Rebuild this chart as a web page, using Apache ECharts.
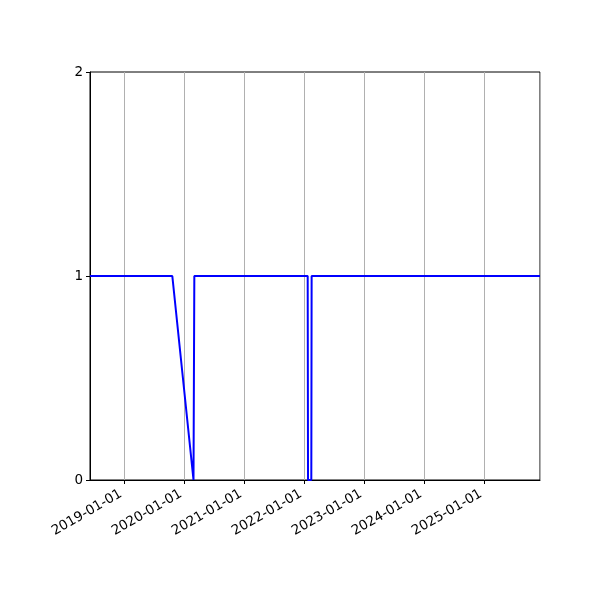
<!DOCTYPE html>
<html>
<head>
<meta charset="utf-8">
<script src="https://cdn.jsdelivr.net/npm/echarts@6/dist/echarts.min.js"></script>
<style>
  html, body { margin: 0; padding: 0; background: #fff; }
  #chart { width: 600px; height: 600px; }
</style>
</head>
<body>
<div id="chart"></div>
<script>
// status per date (1 = on, 0 = off)
var dates  = ['2018-06-06', '2019-10-20', '2020-02-26', '2020-03-02', '2022-01-21', '2022-01-23', '2022-02-12', '2022-02-14', '2025-12-05'];
var values = [1, 1, 0, 1, 1, 0, 0, 1, 1];
var xStart = '2018-06-06';
var xEnd = '2025-12-05';
var yTicks = [0, 1, 2];

var chart = echarts.init(document.getElementById('chart'));

var points = dates.map(function (d, i) { return [d, values[i]]; });

var option = {
    animation: false,
    backgroundColor: '#fff',
    textStyle: { fontFamily: 'DejaVu Sans' },
    grid: {
        left: 90, right: 60, top: 72, bottom: 120,
        show: true, borderColor: '#000', borderWidth: 1
    },
    xAxis: {
        type: 'time',
        min: xStart,
        max: xEnd,
        splitNumber: 7,
        axisLine: { lineStyle: { color: '#000', width: 1 } },
        axisTick: { show: true, length: 4, lineStyle: { color: '#000' } },
        splitLine: { show: true, lineStyle: { color: '#b0b0b0', width: 1 } },
        axisLabel: {
            rotate: 30,
            color: '#000',
            fontSize: 13.5,
            margin: 11,
            padding: [0, 4, 0, 0],
            showMinLabel: false,
            showMaxLabel: false,
            formatter: '{yyyy}-{MM}-{dd}'
        }
    },
    yAxis: {
        type: 'value',
        min: yTicks[0],
        max: yTicks[yTicks.length - 1],
        interval: 1,
        axisLine: { show: true, lineStyle: { color: '#000', width: 1 } },
        axisTick: { show: true, length: 4, lineStyle: { color: '#000' } },
        splitLine: { show: false },
        axisLabel: { color: '#000', fontSize: 13.5, margin: 7 }
    },
    series: [{
        type: 'line',
        data: points,
        showSymbol: false,
        lineStyle: { color: '#0000ff', width: 2 },
        z: 5
    }]
};

chart.setOption(option);
</script>
</body>
</html>
